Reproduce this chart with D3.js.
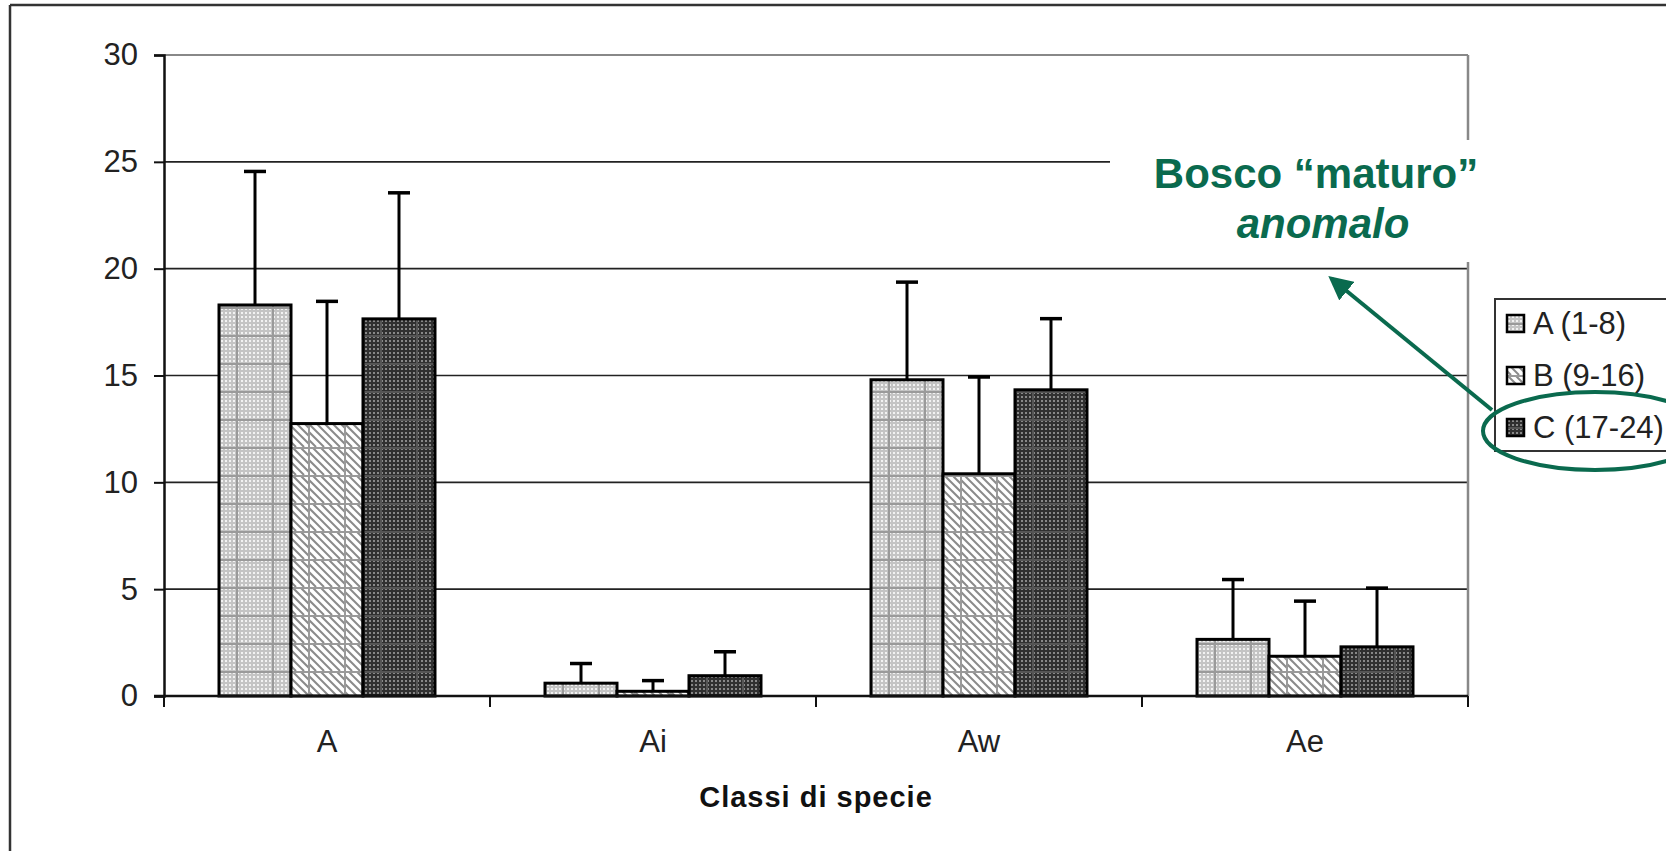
<!DOCTYPE html>
<html>
<head>
<meta charset="utf-8">
<script src="https://cdn.jsdelivr.net/npm/d3@7"></script>
<style>
  body { margin: 0; background: #fff; }
  svg { display: block; font-family: "Liberation Sans", Arial, sans-serif; }
</style>
</head>
<body>
<div id="chart"></div>
<script>
// data
const categories = ["A", "Ai", "Aw", "Ae"];
const seriesNames = ["A (1-8)", "B (9-16)", "C (17-24)"];
const meanA = [18.3, 0.6, 14.8, 2.65];
const meanB = [12.75, 0.22, 10.4, 1.86];
const meanC = [17.65, 0.95, 14.33, 2.3];
const errA = [6.25, 0.92, 4.57, 2.8];
const errB = [5.72, 0.5, 4.53, 2.58];
const errC = [5.9, 1.12, 3.33, 2.75];
const yTicks = [0, 5, 10, 15, 20, 25, 30];
const xTitle = "Classi di specie";
const noteLine1 = "Bosco \u201cmaturo\u201d";
const noteLine2 = "anomalo";

const W = 1666, H = 851;
const margin = { top: 55, right: 198, bottom: 155, left: 164 };
const width = W - margin.left - margin.right;
const height = H - margin.top - margin.bottom;
const green = "#0a6a4e";

const means = [meanA, meanB, meanC];
const errs = [errA, errB, errC];

const svg = d3.select("#chart").append("svg")
  .attr("width", W)
  .attr("height", H);

// patterns
const defs = svg.append("defs");

function dotPattern(id, bg, dot) {
  const p = defs.append("pattern").attr("id", id)
    .attr("patternUnits", "userSpaceOnUse").attr("width", 4).attr("height", 4);
  p.append("rect").attr("width", 4).attr("height", 4).attr("fill", bg);
  p.append("rect").attr("x", 1).attr("y", 1).attr("width", 2).attr("height", 2).attr("fill", dot);
}
dotPattern("dotA", "#c4c4c4", "#f2f2f2");
dotPattern("dotC", "#303030", "#888");

function gridPattern(id, fill, lineColor, diag) {
  const p = defs.append("pattern").attr("id", id)
    .attr("patternUnits", "userSpaceOnUse").attr("width", 36).attr("height", 28);
  p.append("rect").attr("width", 36).attr("height", 28).attr("fill", fill);
  if (diag) {
    d3.range(-36, 37, 8).forEach(o => {
      p.append("line").attr("x1", o).attr("y1", 0).attr("x2", o + 28).attr("y2", 28)
        .attr("stroke", "#8a8a8a").attr("stroke-width", 2);
    });
  }
  p.append("line").attr("x1", 0).attr("y1", 1).attr("x2", 36).attr("y2", 1)
    .attr("stroke", lineColor).attr("stroke-width", 2);
  p.append("line").attr("x1", 1).attr("y1", 0).attr("x2", 1).attr("y2", 28)
    .attr("stroke", lineColor).attr("stroke-width", 2);
}
gridPattern("patA", "url(#dotA)", "#9a9a9a", false);
gridPattern("patB", "#ffffff", "#9a9a9a", true);
gridPattern("patC", "url(#dotC)", "#555", false);
const fills = ["url(#patA)", "url(#patB)", "url(#patC)"];

// outer frame (only top and left edges show)
svg.append("line").attr("x1", 10).attr("y1", 5).attr("x2", W).attr("y2", 5)
  .attr("stroke", "#333").attr("stroke-width", 2.5);
svg.append("line").attr("x1", 10).attr("y1", 5).attr("x2", 10).attr("y2", H)
  .attr("stroke", "#333").attr("stroke-width", 2.5);

const g = svg.append("g").attr("transform", `translate(${margin.left},${margin.top})`);

const y = d3.scaleLinear().domain([0, 30]).range([height, 0]);
const x0 = d3.scaleBand().domain(categories).range([0, width]);
const x1 = d3.scaleBand().domain(d3.range(seriesNames.length))
  .range([0, x0.bandwidth()]).paddingOuter(0.764);

// gridlines
g.append("g").selectAll("line")
  .data(yTicks.filter(t => t > 0 && t < 30))
  .enter().append("line")
  .attr("x1", 0).attr("x2", width)
  .attr("y1", d => y(d)).attr("y2", d => y(d))
  .attr("stroke", "#222").attr("stroke-width", 1.6);

// plot frame top and right
g.append("line").attr("x1", 0).attr("x2", width).attr("y1", y(30)).attr("y2", y(30))
  .attr("stroke", "#888").attr("stroke-width", 2);
g.append("line").attr("x1", width).attr("x2", width).attr("y1", y(30)).attr("y2", height)
  .attr("stroke", "#888").attr("stroke-width", 2.5);

// bars
const groups = g.selectAll(".grp")
  .data(categories)
  .enter().append("g")
  .attr("class", "grp")
  .attr("transform", d => `translate(${x0(d)},0)`);

groups.each(function (cat, ci) {
  const grp = d3.select(this);
  seriesNames.forEach((s, si) => {
    const v = means[si][ci];
    const e = errs[si][ci];
    const bx = x1(si), bw = x1.bandwidth();
    grp.append("line")
      .attr("x1", bx + bw / 2).attr("x2", bx + bw / 2)
      .attr("y1", y(v)).attr("y2", y(v + e))
      .attr("stroke", "#000").attr("stroke-width", 3);
    grp.append("line")
      .attr("x1", bx + bw / 2 - 11).attr("x2", bx + bw / 2 + 11)
      .attr("y1", y(v + e)).attr("y2", y(v + e))
      .attr("stroke", "#000").attr("stroke-width", 3.5);
    grp.append("rect")
      .attr("x", bx).attr("width", bw)
      .attr("y", y(v)).attr("height", height - y(v))
      .attr("fill", fills[si])
      .attr("stroke", "#000").attr("stroke-width", 3);
  });
});

// y axis
const yAxis = g.append("g")
  .call(d3.axisLeft(y).tickValues(yTicks).tickSize(10).tickPadding(16));
yAxis.select(".domain").attr("stroke", "#111").attr("stroke-width", 2.5);
yAxis.selectAll(".tick line").attr("stroke", "#111").attr("stroke-width", 2);
yAxis.selectAll("text").attr("font-size", 31).attr("fill", "#222")
  .attr("font-family", "Liberation Sans, Arial, sans-serif");

// x axis: ticks at category boundaries
const xAxis = g.append("g").attr("transform", `translate(0,${height})`);
xAxis.append("line").attr("x1", -10).attr("x2", width).attr("y1", 0).attr("y2", 0)
  .attr("stroke", "#111").attr("stroke-width", 2.5);
xAxis.selectAll(".bt")
  .data(categories.concat(["end"]))
  .enter().append("line")
  .attr("x1", (d, i) => i < categories.length ? x0(d) : width)
  .attr("x2", (d, i) => i < categories.length ? x0(d) : width)
  .attr("y1", 0).attr("y2", 11)
  .attr("stroke", "#111").attr("stroke-width", 2);
xAxis.selectAll(".lbl")
  .data(categories)
  .enter().append("text")
  .attr("x", d => x0(d) + x0.bandwidth() / 2)
  .attr("y", 56)
  .attr("text-anchor", "middle")
  .attr("font-size", 31).attr("fill", "#222")
  .text(d => d);

g.append("text")
  .attr("x", width / 2).attr("y", height + 111)
  .attr("text-anchor", "middle")
  .attr("font-size", 29).attr("font-weight", "bold")
  .attr("letter-spacing", 1)
  .attr("fill", "#111")
  .text(xTitle);

// annotation box covers part of the plot
svg.append("rect").attr("x", 1110).attr("y", 140).attr("width", 380).attr("height", 122)
  .attr("fill", "#fff");
svg.append("text").attr("x", 1316).attr("y", 188).attr("text-anchor", "middle")
  .attr("font-size", 42).attr("font-weight", "bold").attr("fill", green)
  .text(noteLine1);
svg.append("text").attr("x", 1323).attr("y", 238).attr("text-anchor", "middle")
  .attr("font-size", 42).attr("font-weight", "bold").attr("font-style", "italic").attr("fill", green)
  .text(noteLine2);

// legend
const legend = svg.append("g").attr("transform", "translate(1495,299)");
legend.append("rect").attr("width", 200).attr("height", 152)
  .attr("fill", "#fff").attr("stroke", "#333").attr("stroke-width", 2);
const li = legend.selectAll(".li").data(seriesNames).enter().append("g")
  .attr("transform", (d, i) => `translate(0,${24 + i * 52})`);
li.append("rect").attr("x", 12).attr("y", -8).attr("width", 17).attr("height", 17)
  .attr("fill", (d, i) => fills[i]).attr("stroke", "#000").attr("stroke-width", 2.5);
li.append("text").attr("x", 38).attr("y", 11)
  .attr("font-size", 31).attr("fill", "#222")
  .text(d => d);

// arrow + ellipse
defs.append("marker").attr("id", "arrow")
  .attr("viewBox", "0 0 10 10").attr("refX", 8).attr("refY", 5)
  .attr("markerWidth", 6).attr("markerHeight", 6).attr("orient", "auto")
  .append("path").attr("d", "M0,0 L10,5 L0,10 Z").attr("fill", green);
svg.append("line").attr("x1", 1492).attr("y1", 410).attr("x2", 1332).attr("y2", 279)
  .attr("stroke", green).attr("stroke-width", 4).attr("marker-end", "url(#arrow)");
svg.append("ellipse").attr("cx", 1595).attr("cy", 431).attr("rx", 112).attr("ry", 39)
  .attr("fill", "none").attr("stroke", green).attr("stroke-width", 4);
</script>
</body>
</html>
